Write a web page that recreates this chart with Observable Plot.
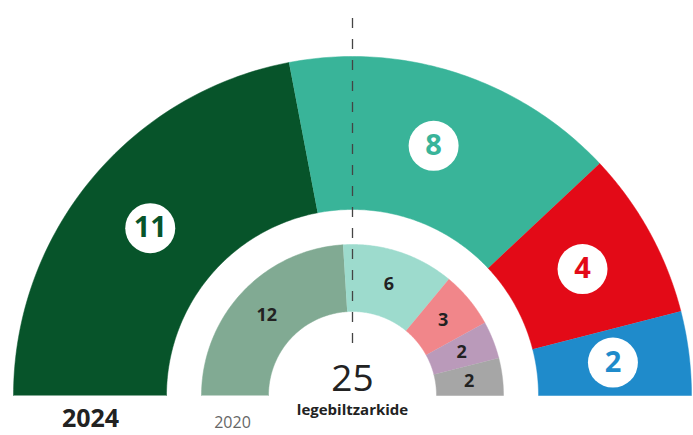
<!DOCTYPE html>
<html><head><meta charset="utf-8">
<script src="https://cdn.jsdelivr.net/npm/d3@7"></script>
<script src="https://cdn.jsdelivr.net/npm/@observablehq/plot@0.6"></script>
<style>body{margin:0;background:#fff} svg{display:block}</style>
</head><body><div id="chart"></div>
<script>
// 2024 (outer ring)
const parties2024 = ["EAJ-PNV", "EH Bildu", "PSE-EE", "PP"];
const seats2024 = [11, 8, 4, 2];
const colors2024 = ["#07542a", "#39b499", "#e30a17", "#1f8bcb"];
// 2020 (inner ring)
const parties2020 = ["EAJ-PNV", "EH Bildu", "PSE-EE", "Elkarrekin Podemos", "PP+Cs"];
const seats2020 = [12, 6, 3, 2, 2];
const colors2020 = ["#81aa93", "#9ddbcd", "#f1868a", "#ba9aba", "#a6a6a6"];
const totalSeats = 25;
const yearOuter = "2024";
const yearInner = "2020";
const centerLabel = "legebiltzarkide";

function ring(year, parties, seats, colors, r0, r1) {
  const total = d3.sum(seats);
  let cum = 0;
  const polys = [], labels = [];
  seats.forEach((s, i) => {
    const a0 = Math.PI * (1 - cum / total), a1 = Math.PI * (1 - (cum + s) / total);
    const key = year + " " + parties[i];
    const n = 80;
    for (let k = 0; k <= n; k++) {
      const a = a0 + (a1 - a0) * k / n;
      polys.push({key, color: colors[i], x: r1 * Math.cos(a), y: r1 * Math.sin(a)});
    }
    for (let k = n; k >= 0; k--) {
      const a = a0 + (a1 - a0) * k / n;
      polys.push({key, color: colors[i], x: r0 * Math.cos(a), y: r0 * Math.sin(a)});
    }
    const am = (a0 + a1) / 2, rm = (r0 + r1) / 2;
    labels.push({party: parties[i], seats: s, color: colors[i], x: rm * Math.cos(am), y: rm * Math.sin(am)});
    cum += s;
  });
  return {polys, labels};
}

const outer = ring(yearOuter, parties2024, seats2024, colors2024, 186, 339);
const inner = ring(yearInner, parties2020, seats2020, colors2020, 84, 151);

const chart = Plot.plot({
  width: 693,
  height: 435,
  margin: 0,
  x: {domain: [-352, 341], range: [0, 693], axis: null},
  y: {domain: [-40, 395], range: [435, 0], axis: null},
  color: {type: "identity"},
  style: {fontFamily: "'Open Sans', sans-serif", background: "#fff"},
  marks: [
    Plot.line(outer.polys, {x: "x", y: "y", z: "key", fill: "color", stroke: "color", strokeWidth: 0.5}),
    Plot.line(inner.polys, {x: "x", y: "y", z: "key", fill: "color", stroke: "color", strokeWidth: 0.5}),
    Plot.ruleX([0], {y1: 52, y2: 387, stroke: "#444", strokeWidth: 1.3, strokeDasharray: "10,11"}),
    Plot.dot(outer.labels, {x: "x", y: "y", r: 25, fill: "white", stroke: null}),
    Plot.text(outer.labels, {x: "x", y: "y", text: d => String(d.seats), fill: "color", fontSize: 29, fontWeight: "bold"}),
    Plot.text(inner.labels, {x: "x", y: "y", text: d => String(d.seats), fill: "#222", fontSize: 18, fontWeight: "bold"}),
    Plot.text([totalSeats], {x: 0, y: 16, text: d => String(d), fontSize: 37, fill: "#222"}),
    Plot.text([centerLabel], {x: 0, y: -15, text: d => d, fontSize: 15, fontWeight: "bold", fill: "#222"}),
    Plot.text([yearOuter], {x: -262, y: -23, text: d => d, fontSize: 25, fontWeight: "bold", fill: "#222"}),
    Plot.text([yearInner], {x: -120, y: -27, text: d => d, fontSize: 16, fill: "#666"})
  ]
});
document.getElementById("chart").append(chart);
</script>
</body></html>
